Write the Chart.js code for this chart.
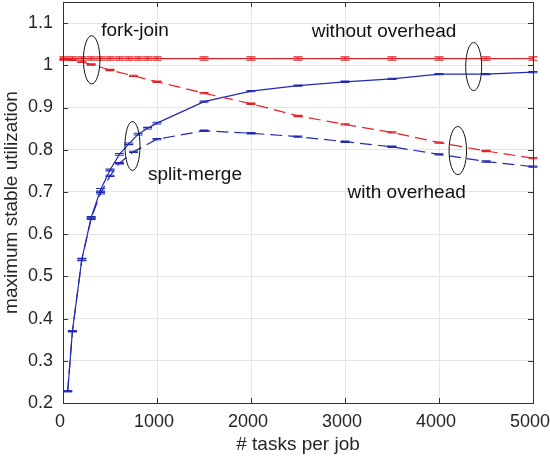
<!DOCTYPE html>
<html><head><meta charset="utf-8">
<script src="https://cdn.jsdelivr.net/npm/chart.js@4/dist/chart.umd.min.js"></script>
<style>html,body{margin:0;padding:0;background:#fff}#wrap{width:550px;height:459px;position:relative}</style>
</head><body><div id="wrap"><canvas id="c"></canvas></div>
<script>
// ---- data ----
const xTicks = [0, 1000, 2000, 3000, 4000, 5000];
const xTickLabels = ['0', '1000', '2000', '3000', '4000', '5000'];
const yTicks = [0.2, 0.3, 0.4, 0.5, 0.6, 0.7, 0.8, 0.9, 1.0, 1.1];
const yTickLabels = ['0.2', '0.3', '0.4', '0.5', '0.6', '0.7', '0.8', '0.9', '1', '1.1'];

// fork-join, without overhead (red solid)
const xFJ = [10,100,200,300,400,500,600,700,800,900,1000,1500,2000,2500,3000,3500,4000,4500,5000];
const yFJ = [1.016,1.016,1.016,1.016,1.016,1.016,1.016,1.016,1.016,1.016,1.016,1.016,1.016,1.016,1.016,1.016,1.016,1.016,1.016];
const eFJ = [0.004,0.004,0.004,0.004,0.004,0.004,0.004,0.004,0.004,0.004,0.004,0.004,0.004,0.004,0.004,0.004,0.004,0.004,0.004];

// fork-join, with overhead (red dashed)
const xFJo = [10,100,200,300,500,750,1000,1500,2000,2500,3000,3500,4000,4500,5000];
const yFJo = [1.015,1.013,1.008,1.002,0.989,0.975,0.961,0.934,0.909,0.880,0.860,0.841,0.817,0.797,0.780];
const eFJo = [0.0015,0.0015,0.0015,0.0015,0.0015,0.0015,0.0015,0.0015,0.0015,0.0015,0.0015,0.0015,0.0015,0.0015,0.0015];

// split-merge, without overhead (blue solid)
const xSM = [50,100,200,300,400,500,600,700,800,900,1000,1500,2000,2500,3000,3500,4000,4500,5000];
const ySM = [0.228,0.370,0.540,0.640,0.705,0.752,0.789,0.814,0.837,0.851,0.863,0.914,0.939,0.952,0.961,0.968,0.979,0.979,0.984];
const eSM = [0.001,0.001,0.003,0.002,0.003,0.002,0.002,0.002,0.002,0.002,0.002,0.0015,0.0015,0.0015,0.0015,0.0015,0.0015,0.0015,0.0015];

// split-merge, with overhead (blue dashed)
const xSMo = [50,100,200,300,400,500,600,750,1000,1500,2000,2500,3000,3500,4000,4500,5000];
const ySMo = [0.228,0.370,0.540,0.637,0.697,0.738,0.768,0.795,0.825,0.845,0.839,0.831,0.819,0.807,0.789,0.772,0.760];
const eSMo = [0.001,0.001,0.002,0.002,0.002,0.0015,0.0015,0.0015,0.0015,0.0015,0.0015,0.0015,0.0015,0.0015,0.0015,0.0015,0.0015];

// annotations (data coordinates)
const notes = [
  {text: 'fork-join', x: 766, y: 1.0697},
  {text: 'without overhead', x: 3415, y: 1.067},
  {text: 'split-merge', x: 1404, y: 0.728},
  {text: 'with overhead', x: 3656, y: 0.686}
];
const ellipses = [
  {x: 305, y: 1.013, rx: 88, ry: 0.057},
  {x: 739, y: 0.809, rx: 80, ry: 0.058},
  {x: 4369, y: 0.997, rx: 85, ry: 0.057},
  {x: 4200, y: 0.798, rx: 93, ry: 0.057}
];

const RED = 'rgb(226,34,38)';
const BLUE = 'rgb(32,42,178)';
const FONT = "'Liberation Sans', Arial, Helvetica, sans-serif";
Chart.defaults.font.family = FONT;

function pts(xs, ys) { return xs.map((x, i) => ({x: x, y: ys[i]})); }

const errs = [eFJ, eFJo, eSM, eSMo];

const extras = {
  id: 'extras',
  afterDatasetsDraw(chart) {
    const ctx = chart.ctx, xs = chart.scales.x, ys = chart.scales.y;
    const a = chart.chartArea;
    ctx.save();
    // error bars
    chart.data.datasets.forEach((ds, di) => {
      const e = errs[di];
      ctx.strokeStyle = ds.borderColor;
      ctx.lineWidth = 1.1;
      ctx.setLineDash([]);
      ds.data.forEach((p, i) => {
        const px = xs.getPixelForValue(p.x);
        const y1 = ys.getPixelForValue(p.y - e[i]);
        const y2 = ys.getPixelForValue(p.y + e[i]);
        const hw = 4.5;
        ctx.beginPath();
        ctx.moveTo(px, y1); ctx.lineTo(px, y2);
        ctx.moveTo(px - hw, y1); ctx.lineTo(px + hw, y1);
        ctx.moveTo(px - hw, y2); ctx.lineTo(px + hw, y2);
        ctx.stroke();
      });
    });
    // ellipses
    ctx.strokeStyle = '#111';
    ctx.lineWidth = 1;
    ellipses.forEach(el => {
      const cx = xs.getPixelForValue(el.x), cy = ys.getPixelForValue(el.y);
      const rx = Math.abs(xs.getPixelForValue(el.x + el.rx) - cx);
      const ry = Math.abs(ys.getPixelForValue(el.y + el.ry) - cy);
      ctx.beginPath();
      ctx.ellipse(cx, cy, rx, ry, 0, 0, Math.PI * 2);
      ctx.stroke();
    });
    // texts
    ctx.fillStyle = '#111';
    ctx.font = '19px ' + FONT;
    ctx.textAlign = 'center';
    ctx.textBaseline = 'alphabetic';
    notes.forEach(n => {
      ctx.fillText(n.text, xs.getPixelForValue(n.x), ys.getPixelForValue(n.y));
    });
    // box and inward ticks
    ctx.strokeStyle = '#333';
    ctx.lineWidth = 1;
    ctx.strokeRect(Math.round(a.left) + 0.5, Math.round(a.top) + 0.5, Math.round(a.right - a.left), Math.round(a.bottom - a.top));
    const tl = 5;
    ctx.beginPath();
    yTicks.forEach(v => {
      const py = Math.round(ys.getPixelForValue(v)) + 0.5;
      ctx.moveTo(a.left, py); ctx.lineTo(a.left + tl, py);
      ctx.moveTo(a.right, py); ctx.lineTo(a.right - tl, py);
    });
    xTicks.forEach(v => {
      const px = Math.round(xs.getPixelForValue(v)) + 0.5;
      ctx.moveTo(px, a.bottom); ctx.lineTo(px, a.bottom - tl);
      ctx.moveTo(px, a.top); ctx.lineTo(px, a.top + tl);
    });
    ctx.stroke();
    ctx.restore();
  }
};

function noPad(s) { s.paddingTop = 0; s.paddingBottom = 0; s.paddingLeft = 0; s.paddingRight = 0; }

new Chart(document.getElementById('c'), {
  type: 'line',
  data: {
    datasets: [
      {data: pts(xFJ, yFJ), borderColor: RED, borderWidth: 1.2, pointRadius: 0, tension: 0, fill: false},
      {data: pts(xFJo, yFJo), borderColor: RED, borderWidth: 1.2, borderDash: [12, 6], pointRadius: 0, tension: 0, fill: false},
      {data: pts(xSM, ySM), borderColor: BLUE, borderWidth: 1.2, pointRadius: 0, tension: 0, fill: false},
      {data: pts(xSMo, ySMo), borderColor: BLUE, borderWidth: 1.2, borderDash: [12, 6], pointRadius: 0, tension: 0, fill: false}
    ]
  },
  options: {
    responsive: true,
    maintainAspectRatio: false,
    animation: false,
    layout: {padding: {top: 2, right: 17, left: 0, bottom: 0}},
    plugins: {legend: {display: false}, tooltip: {enabled: false}},
    scales: {
      x: {
        type: 'linear', min: 0, max: 5000,
        afterBuildTicks: s => { s.ticks = xTicks.map(v => ({value: v})); },
        afterFit: s => { s.height = 56; noPad(s); },
        ticks: {font: {size: 18}, color: '#262626', padding: 8, maxRotation: 0, labelOffset: -3,
          callback: (v, i) => xTickLabels[i]},
        grid: {color: '#e4e4e4', drawTicks: false},
        border: {display: false},
        title: {display: true, text: '# tasks per job', font: {size: 19}, color: '#262626', padding: {top: 0, bottom: 3}}
      },
      y: {
        type: 'linear', min: 0.2, max: 1.15,
        afterBuildTicks: s => { s.ticks = yTicks.map(v => ({value: v})); },
        afterFit: s => { s.width = 63; noPad(s); },
        ticks: {font: {size: 18}, color: '#262626', padding: 10,
          callback: (v, i) => yTickLabels[i]},
        grid: {color: '#e4e4e4', drawTicks: false},
        border: {display: false},
        title: {display: true, text: 'maximum stable utilization', font: {size: 19}, color: '#262626', padding: {top: 0, bottom: 0}}
      }
    }
  },
  plugins: [extras]
});
</script>
</body></html>
